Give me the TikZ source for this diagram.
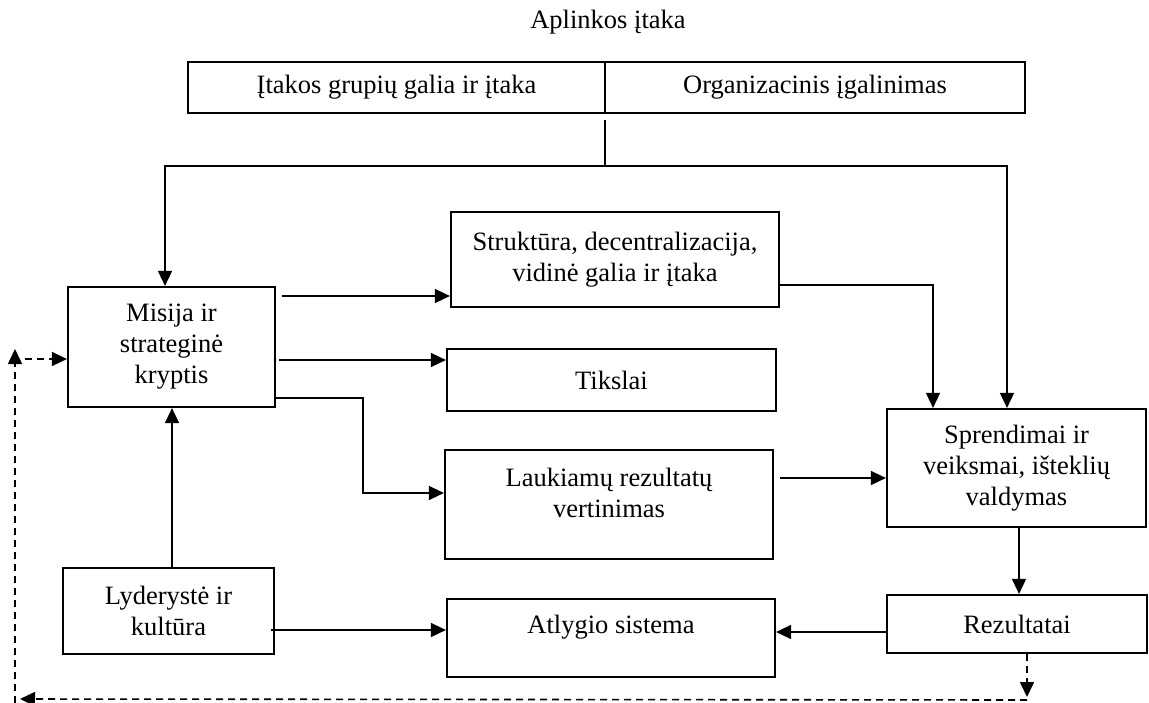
\documentclass[tikz,border=0pt]{standalone}
\usepackage{fontspec}
\setmainfont{Liberation Serif}
\usetikzlibrary{arrows.meta}

\begin{document}
\begin{tikzpicture}[x=1pt,y=-1pt,
        font=\fontsize{26.5}{31}\selectfont,
        blokas/.style={draw,line width=2.2pt,align=center,inner sep=0pt},
        linija/.style={line width=1.6pt},
        rod/.style={linija,-{Triangle[length=15pt,width=14pt]}},
        grizt/.style={rod,dash pattern=on 7pt off 5pt}
    ]
        \useasboundingbox (0,0) rectangle (1149,702);
        \node (aplinka) at (608,22) {Aplinkos įtaka};
        \node[blokas,minimum width=417pt,minimum height=51pt] (grupes) at (396.5,87.5) {Įtakos grupių galia ir įtaka};
        \node[blokas,minimum width=420pt,minimum height=51pt] (igalinimas) at (815,87.5) {Organizacinis įgalinimas};
        \node[blokas,minimum width=207pt,minimum height=120pt] (misija) at (171.5,347) {Misija ir\\strateginė\\kryptis};
        \node[blokas,minimum width=328pt,minimum height=95pt] (struktura) at (615,259.5) {Struktūra, decentralizacija,\\vidinė galia ir įtaka};
        \node[blokas,minimum width=329pt,minimum height=62pt] (tikslai) at (611.5,380) {Tikslai};
        \node[blokas,minimum width=328pt,minimum height=109pt] (laukiamu) at (609,504.5) {Laukiamų rezultatų\\vertinimas\rule[-23pt]{0pt}{0pt}};
        \node[blokas,minimum width=328pt,minimum height=78pt] (atlygis) at (611,638) {Atlygio sistema\rule[-27.6pt]{0pt}{0pt}};
        \node[blokas,minimum width=259pt,minimum height=118pt] (sprendimai) at (1016.5,468) {Sprendimai ir\\veiksmai, išteklių\\valdymas};
        \node[blokas,minimum width=260pt,minimum height=58pt] (rezultatai) at (1017,624) {Rezultatai};
        \node[blokas,minimum width=211pt,minimum height=86pt] (lyderyste) at (168.5,611) {Lyderystė ir\\kultūra};

        \coordinate (skirt) at (605,166);
        \draw[linija] ([yshift=-6pt]grupes.south -| skirt) -- (skirt);
        \draw[rod] (skirt) -| ([xshift=-6.5pt]misija.north);
        \draw[rod] (skirt) -| ([xshift=-9.5pt]sprendimai.north);
        \draw[rod] ([yshift=-25.5pt]struktura.east) -| ([xshift=-83.5pt]sprendimai.north);

        \draw[rod] ([xshift=6pt,yshift=51pt]misija.east) coordinate (m1) -- (m1 -| struktura.west);
        \draw[rod] ([xshift=3pt,yshift=-13pt]misija.east) coordinate (m2) -- (m2 -| tikslai.west);
        \draw[rod] ([yshift=-51pt]misija.east) -- ++(87pt,0) |- ([yshift=11.5pt]laukiamu.west);
        \draw[rod] ([xshift=6pt,yshift=26.5pt]laukiamu.east) coordinate (l1) -- (l1 -| sprendimai.west);
        \draw[rod] ([xshift=2.5pt]sprendimai.south) -- ([xshift=2pt]rezultatai.north);
        \draw[rod] ([yshift=-8pt]rezultatai.west) coordinate (r1) -- (r1 -| atlygis.east);
        \draw[rod] ([xshift=-4pt,yshift=-19pt]lyderyste.east) coordinate (k1) -- (k1 -| atlygis.west);
        \draw[rod] ([xshift=3.5pt]lyderyste.north) coordinate (k2) -- (k2 |- misija.south);

        \coordinate (grd) at (1027,700);
        \coordinate (grk) at (15,699);
        \draw[grizt] ([xshift=10pt]rezultatai.south) -- ([yshift=3pt]grd);
        \draw[grizt] (grd) -- ([xshift=5pt]grk);
        \draw[grizt] ([yshift=-4pt]grk) -- (15,349);
        \draw[grizt] (25,359) coordinate (g1) -- (g1 -| misija.west);
\end{tikzpicture}
\end{document}
